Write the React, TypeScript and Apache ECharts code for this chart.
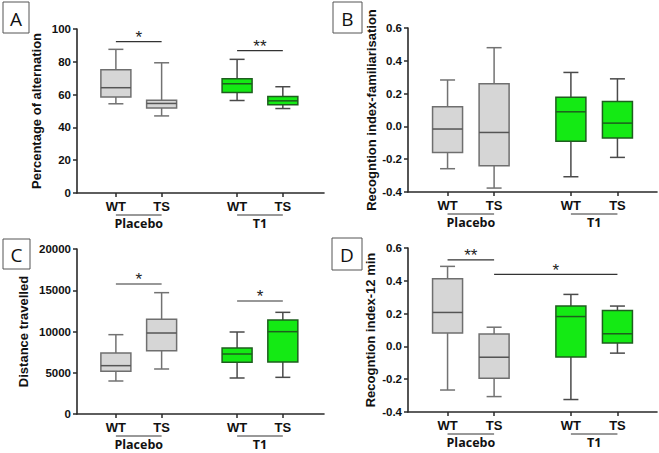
import React, { useEffect, useRef } from "react";
import * as echarts from "echarts";

const categories = ["WT", "TS", "WT", "TS"];
const groups = ["Placebo", "T1"];

// each box: [min, Q1, median, Q3, max]
const alternation = [
  [54.4, 58.5, 64.2, 75.2, 87.6],
  [47.0, 51.9, 54.6, 56.6, 79.4],
  [56.4, 61.3, 66.6, 69.7, 81.5],
  [51.5, 53.8, 56.2, 58.9, 64.8],
];
const familiarisation = [
  [-0.258, -0.159, -0.016, 0.12, 0.283],
  [-0.376, -0.24, -0.037, 0.26, 0.48],
  [-0.307, -0.091, 0.089, 0.177, 0.329],
  [-0.189, -0.071, 0.02, 0.152, 0.29],
];
const distance = [
  [4000, 5172, 5859, 7394, 9616],
  [5455, 7677, 9818, 11475, 14707],
  [4364, 6263, 7273, 8000, 9939],
  [4444, 6303, 9980, 11394, 12323],
];
const recognition12 = [
  [-0.266, 0.081, 0.207, 0.412, 0.488],
  [-0.306, -0.194, -0.066, 0.075, 0.117],
  [-0.324, -0.064, 0.182, 0.246, 0.317],
  [-0.041, 0.02, 0.077, 0.219, 0.246],
];

// significance brackets: [from index, to index, y value, label]
const sigA: [number, number, number, string][] = [
  [0, 1, 92.3, "*"],
  [2, 3, 86.8, "**"],
];
const sigB: [number, number, number, string][] = [];
const sigC: [number, number, number, string][] = [
  [0, 1, 15758, "*"],
  [2, 3, 13697, "*"],
];
const sigD: [number, number, number, string][] = [
  [0, 1, 0.527, "**"],
  [1, 3, 0.439, "*"],
];

// y axis ranges: [min, max, interval]
const yAxisA = [0, 100, 20];
const yAxisB = [-0.4, 0.6, 0.2];
const yAxisC = [0, 20000, 5000];
const yAxisD = [-0.4, 0.6, 0.2];

// layout
const xPos = [0.85, 1.85, 3.5, 4.5];
const FONT = "Liberation Sans, Arial, sans-serif";

const panels = [
  { letter: "A", name: "Percentage of alternation", data: alternation, sig: sigA, y: yAxisA, dec: 0,
    grid: { left: 77, top: 29, width: 247, height: 164 }, xMax: 5.4, nameGap: 34,
    box: { x: 3, y: 2, w: 26, h: 31 } },
  { letter: "B", name: "Recogntion index-familiarisation", data: familiarisation, sig: sigB, y: yAxisB, dec: 1,
    grid: { left: 408, top: 28, width: 249, height: 164 }, xMax: 5.35, nameGap: 30,
    box: { x: 333, y: 2, w: 29, h: 31 } },
  { letter: "C", name: "Distance travelled", data: distance, sig: sigC, y: yAxisC, dec: 0,
    grid: { left: 77, top: 249, width: 247, height: 165 }, xMax: 5.4, nameGap: 47,
    box: { x: 3, y: 239, w: 27, h: 30 } },
  { letter: "D", name: "Recogntion index-12 min", data: recognition12, sig: sigD, y: yAxisD, dec: 1,
    grid: { left: 408, top: 248, width: 249, height: 164 }, xMax: 5.35, nameGap: 31,
    box: { x: 332, y: 238, w: 30, h: 32 } },
];

function buildOption() {
  const grid: any[] = [];
  const xAxis: any[] = [];
  const yAxis: any[] = [];
  const series: any[] = [];
  const graphic: any[] = [];

  panels.forEach((p, i) => {
    grid.push({ ...p.grid });
    xAxis.push({
      type: "value",
      gridIndex: i,
      min: 0,
      max: p.xMax,
      splitLine: { show: false },
      axisLine: { show: true, onZero: false, lineStyle: { color: "#2a2a2a", width: 1.6 } },
      axisTick: { show: true, customValues: xPos, length: 4, lineStyle: { color: "#2a2a2a", width: 1.5 } },
      axisLabel: {
        customValues: xPos,
        formatter: (v: number) => {
          const k = xPos.findIndex((q) => Math.abs(q - v) < 1e-6);
          return k >= 0 ? categories[k] : "";
        },
        fontFamily: FONT,
        fontWeight: "bold",
        fontSize: 13,
        color: "#111",
        margin: 7,
      },
    });
    yAxis.push({
      type: "value",
      gridIndex: i,
      min: p.y[0],
      max: p.y[1],
      interval: p.y[2],
      name: p.name,
      nameLocation: "middle",
      nameGap: p.nameGap,
      nameRotate: 90,
      nameTextStyle: { fontFamily: FONT, fontWeight: "bold", fontSize: 13, color: "#111" },
      splitLine: { show: false },
      axisLine: { show: true, onZero: false, lineStyle: { color: "#2a2a2a", width: 1.6 } },
      axisTick: { show: true, length: 4, lineStyle: { color: "#2a2a2a", width: 1.5 } },
      axisLabel: {
        formatter: (v: number) => v.toFixed(p.dec),
        fontFamily: FONT,
        fontWeight: "bold",
        fontSize: 11.5,
        color: "#111",
        margin: 6,
      },
    });

    // boxes
    series.push({
      type: "custom",
      xAxisIndex: i,
      yAxisIndex: i,
      clip: false,
      data: p.data.map((v, k) => [xPos[k], ...v]),
      encode: { x: 0, y: [1, 2, 3, 4, 5] },
      renderItem: (params: any, api: any) => {
        const k = params.dataIndex;
        const x = api.value(0);
        const py = (d: number) => api.coord([x, api.value(d)])[1];
        const cx = api.coord([x, api.value(1)])[0];
        const yMin = py(1), yQ1 = py(2), yMed = py(3), yQ3 = py(4), yMax = py(5);
        const green = k >= 2;
        const fill = green ? "#14ea14" : "#d6d6d6";
        const border = green ? "#1e5e1e" : "#6f6f6f";
        const wh = green ? "#4a4a4a" : "#727272";
        const med = green ? "#1e5e1e" : "#555555";
        const half = 15;
        const cap = 7.5;
        const ls = (c: string) => ({ stroke: c, lineWidth: 1.5 });
        return {
          type: "group",
          children: [
            { type: "line", shape: { x1: cx, y1: yMax, x2: cx, y2: yQ3 }, style: ls(wh) },
            { type: "line", shape: { x1: cx, y1: yQ1, x2: cx, y2: yMin }, style: ls(wh) },
            { type: "line", shape: { x1: cx - cap, y1: yMax, x2: cx + cap, y2: yMax }, style: ls(wh) },
            { type: "line", shape: { x1: cx - cap, y1: yMin, x2: cx + cap, y2: yMin }, style: ls(wh) },
            {
              type: "rect",
              shape: { x: cx - half, y: yQ3, width: 2 * half, height: yQ1 - yQ3 },
              style: { fill, stroke: border, lineWidth: 1.5 },
            },
            { type: "line", shape: { x1: cx - half, y1: yMed, x2: cx + half, y2: yMed }, style: ls(med) },
          ],
        };
      },
    });

    // significance brackets
    if (p.sig.length) {
      series.push({
        type: "custom",
        xAxisIndex: i,
        yAxisIndex: i,
        clip: false,
        data: p.sig.map((s) => [xPos[s[0]], xPos[s[1]], s[2]]),
        encode: { x: [0, 1], y: 2 },
        renderItem: (params: any, api: any) => {
          const s = p.sig[params.dataIndex];
          const a = api.coord([api.value(0), api.value(2)]);
          const b = api.coord([api.value(1), api.value(2)]);
          return {
            type: "group",
            children: [
              { type: "line", shape: { x1: a[0], y1: a[1], x2: b[0], y2: b[1] }, style: { stroke: "#333", lineWidth: 1.2 } },
              {
                type: "text",
                x: (a[0] + b[0]) / 2,
                y: a[1] - 4,
                style: {
                  text: s[3],
                  fontFamily: FONT,
                  fontSize: 17,
                  fill: "#222",
                  textAlign: "center",
                  textVerticalAlign: "middle",
                },
              },
            ],
          };
        },
      });
    }

    // group labels below the axis
    series.push({
      type: "custom",
      xAxisIndex: i,
      yAxisIndex: i,
      clip: false,
      data: groups.map((g, j) => [xPos[2 * j], xPos[2 * j + 1]]),
      encode: { x: [0, 1] },
      renderItem: (params: any, api: any) => {
        const cs = params.coordSys;
        const bottom = cs.y + cs.height;
        const a = api.coord([api.value(0), p.y[0]]);
        const b = api.coord([api.value(1), p.y[0]]);
        return {
          type: "group",
          children: [
            { type: "line", shape: { x1: a[0], y1: bottom + 22, x2: b[0], y2: bottom + 22 }, style: { stroke: "#333", lineWidth: 1 } },
            {
              type: "text",
              x: (a[0] + b[0]) / 2,
              y: bottom + 30,
              style: {
                text: groups[params.dataIndex],
                fontFamily: "Open Sans, sans-serif",
                fontWeight: "bold",
                fontSize: 12.5,
                fill: "#111",
                textAlign: "center",
                textVerticalAlign: "middle",
              },
            },
          ],
        };
      },
    });

    // panel letter box
    graphic.push({
      type: "rect",
      shape: { x: p.box.x, y: p.box.y, width: p.box.w, height: p.box.h },
      style: { fill: "#fff", stroke: "#555", lineWidth: 1 },
    });
    graphic.push({
      type: "text",
      x: p.box.x + p.box.w / 2,
      y: p.box.y + p.box.h / 2 + 1,
      style: {
        text: p.letter,
        fontFamily: "Open Sans, sans-serif",
        fontSize: 19,
        fill: "#111",
        textAlign: "center",
        textVerticalAlign: "middle",
      },
    });
  });

  return {
    animation: false,
    backgroundColor: "#fff",
    grid,
    xAxis,
    yAxis,
    series,
    graphic,
  };
}

export default function App() {
  const ref = useRef<HTMLDivElement>(null);
  useEffect(() => {
    if (!ref.current) return;
    const chart = echarts.init(ref.current, undefined, { renderer: "svg" });
    chart.setOption(buildOption() as any);
    return () => chart.dispose();
  }, []);
  return (
    <div
      ref={ref}
      style={{ position: "fixed", left: 0, top: 0, width: 659, height: 453, background: "#fff" }}
    />
  );
}
